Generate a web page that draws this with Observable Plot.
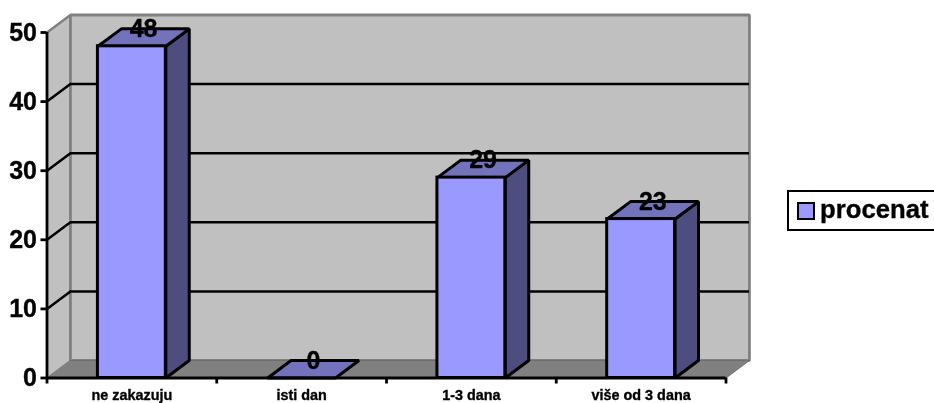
<!DOCTYPE html>
<html><head><meta charset="utf-8">
<script src="https://cdn.jsdelivr.net/npm/d3@7"></script>
<script src="https://cdn.jsdelivr.net/npm/@observablehq/plot@0.6"></script>
<style>
html,body{margin:0;padding:0;background:#fff;overflow:hidden}
#c{position:relative;width:934px;height:403px;overflow:hidden;filter:blur(.35px)}
#c svg{position:absolute;left:0;top:0;background:transparent}
#c text{stroke:#000;stroke-width:.35px}
#lg{position:absolute;left:787px;top:190px;width:160px;height:37px;border:2.5px solid #000;background:#fff;font:bold 25.7px "Liberation Sans",Arial,sans-serif;color:#000;box-sizing:content-box;-webkit-text-stroke:.35px #000}
#lg i{position:absolute;left:8px;top:10px;width:14px;height:14px;border:2.5px solid #000;background:#9999ff}
#lg span{position:absolute;left:31px;top:3px}
</style></head><body><div id="c"></div>
<script>
const categories = ["ne zakazuju","isti dan","1-3 dana","više od 3 dana"];
const values = [48,0,29,23];
const yTicks = [0,10,20,30,40,50];
const gridValues = [10,20,30,40];
const seriesName = "procenat";
const DX = 0.138, DY = 2.53, HALF = 0.2;
const N = categories.length, TOP = 50;

const poly = (id, pts) => pts.map(([x,y]) => ({id,x,y}));
const bars = values.map((v,i)=>({v,c:categories[i],x1:i+.5-HALF,x2:i+.5+HALF}));
const tops = bars.flatMap((b,i)=>poly(i,[[b.x1,b.v],[b.x2,b.v],[b.x2+DX,b.v+DY],[b.x1+DX,b.v+DY]]));
const sides = bars.filter(b=>b.v>0).flatMap((b,i)=>poly(i,[[b.x2,0],[b.x2+DX,DY],[b.x2+DX,b.v+DY],[b.x2,b.v]]));
const shape = (d,fill,stroke,sw) => Plot.line(d,{x:"x",y:"y",z:"id",curve:"linear-closed",fill,stroke,strokeWidth:sw,strokeLinejoin:"miter"});

const chart = Plot.plot({
  width:934,height:403,
  marginLeft:46.5,marginRight:208.5,marginTop:32,marginBottom:25.5,
  x:{domain:[0,N]},y:{domain:[0,TOP]},
  style:{fontFamily:"'Liberation Sans',Arial,sans-serif",fontWeight:"bold",color:"#000",background:"transparent",overflow:"visible"},
  marks:[
    shape(poly("side",[[0,0],[DX,DY],[DX,TOP+DY],[0,TOP]]),"#c0c0c0","none",0),
    shape(poly("back",[[DX,DY],[N+DX,DY],[N+DX,TOP+DY],[DX,TOP+DY]]),"#c0c0c0","#808080",2.8),
    shape(poly("floor",[[0,0],[N,0],[N+DX,DY],[DX,DY]]),"#808080","#6e6e6e",1),
    shape(poly("topedge",[[0,TOP],[DX,TOP+DY]]),"none","#808080",2.5),
    Plot.ruleY(gridValues,{y:d=>d+DY,x1:DX,x2:N+DX,stroke:"#000",strokeWidth:2.5}),
    Plot.line(gridValues.flatMap(v=>poly(v,[[0,v],[DX,v+DY]])),{x:"x",y:"y",z:"id",stroke:"#000",strokeWidth:2.5}),
    shape(sides,"#4d4d80","#000",3),
    shape(tops,"#7373bb","#000",3),
    Plot.rect(bars,{x1:"x1",x2:"x2",y1:0,y2:"v",fill:"#9999ff",stroke:"#000",strokeWidth:3}),
    Plot.ruleX([0],{y1:0,y2:TOP,stroke:"#000",strokeWidth:2.8}),
    Plot.ruleY([0],{x1:0,x2:N,stroke:"#000",strokeWidth:2.8}),
    Plot.axisY({ticks:yTicks,tickSize:6,tickPadding:4,fontSize:25,fontWeight:"bold",stroke:"#000",strokeWidth:2.8,label:null}),
    Plot.axisX({ticks:d3.range(N+1),tickSize:6,tickFormat:()=>"",stroke:"#000",strokeWidth:2.8,label:null}),
    Plot.axisX({ticks:d3.range(N).map(i=>i+.5),tickSize:0,tickPadding:11.5,tickFormat:d=>categories[d-.5],fontSize:14.4,fontWeight:"bold",label:null}),
    Plot.text(bars,{x:b=>(b.x1+b.x2)/2+DX/2,y:b=>b.v+DY,text:"v",fontSize:25,fontWeight:"bold",fill:"#000"})
  ]
});
const c=document.getElementById("c");
c.appendChild(chart);
const lg=document.createElement("div");lg.id="lg";
lg.innerHTML="<i></i><span></span>";
lg.querySelector("span").textContent=seriesName;
c.appendChild(lg);
</script></body></html>
